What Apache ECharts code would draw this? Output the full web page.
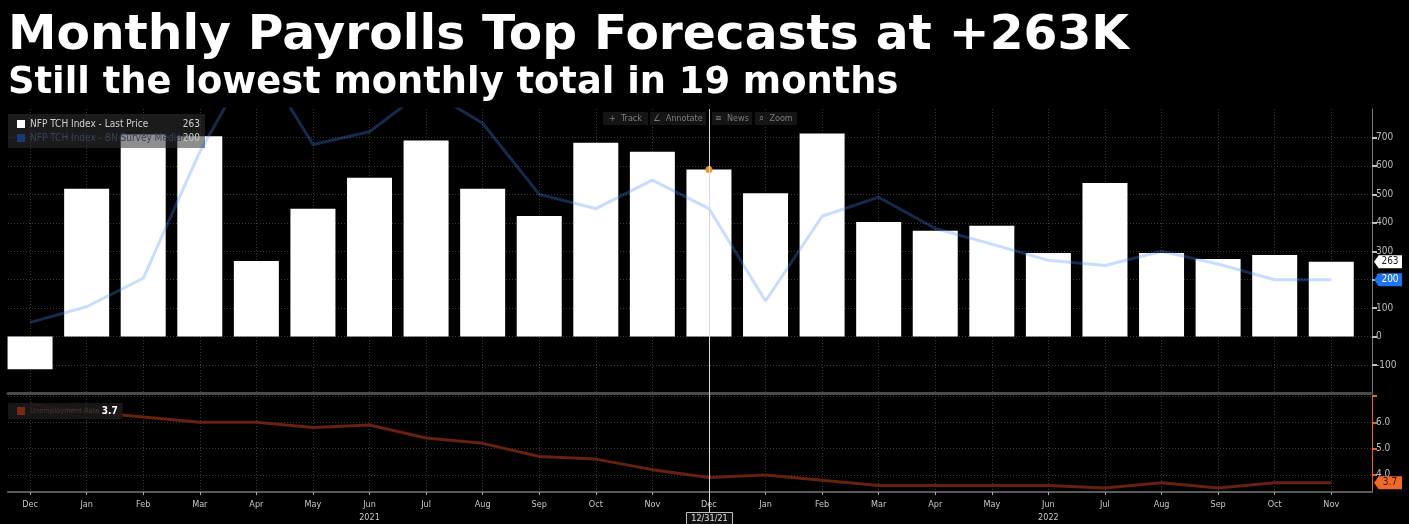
<!DOCTYPE html>
<html>
<head>
<meta charset="utf-8">
<title>Monthly Payrolls</title>
<style>
  html, body { margin: 0; padding: 0; background: #000; }
  #chart { width: 1409px; height: 524px; }
</style>
<script src="https://cdn.jsdelivr.net/npm/echarts@6/dist/echarts.min.js"></script>
</head>
<body>
<div id="chart"></div>
<script>
// Month labels, Dec 2020 .. Nov 2022
const months = ['Dec', 'Jan', 'Feb', 'Mar', 'Apr', 'May', 'Jun', 'Jul', 'Aug', 'Sep', 'Oct', 'Nov',
                'Dec', 'Jan', 'Feb', 'Mar', 'Apr', 'May', 'Jun', 'Jul', 'Aug', 'Sep', 'Oct', 'Nov'];
// Year captions placed under the June ticks
const yearLabels = { 6: '2021', 18: '2022' };

// Nonfarm payrolls change, thousands (last price)
const payrolls = [-115, 520, 710, 704, 266, 449, 558, 689, 520, 424, 681, 650,
                  587, 504, 714, 403, 372, 390, 294, 540, 294, 273, 287, 263];
// BN survey median, thousands
const surveyMedian = [50, 105, 205, 650, 1000, 675, 720, 870, 750, 500, 450, 550,
                      450, 125, 423, 490, 380, 325, 268, 250, 300, 255, 200, 200];
// Unemployment rate, percent
const unemployment = [6.7, 6.4, 6.2, 6.0, 6.0, 5.8, 5.9, 5.4, 5.2, 4.7, 4.6, 4.2,
                      3.9, 4.0, 3.8, 3.6, 3.6, 3.6, 3.6, 3.5, 3.7, 3.5, 3.7, 3.7];

// Axis ticks
const payrollTicks = [-100, 0, 100, 200, 300, 400, 500, 600, 700];
const rateTicks = [4, 5, 6, 7];
const rateLabels = [4, 5, 6];

// Crosshair position
const crosshairIndex = 12;
const crosshairDate = '12/31/21';

const NAME_NFP = 'NFP TCH Index - Last Price';
const NAME_SURVEY = 'NFP TCH Index - BN Survey Median';
const NAME_RATE = 'Unemployment Rate';

const NARROW = "'Liberation Sans Narrow', 'DejaVu Sans Condensed', 'Arial Narrow', sans-serif";
const X_MIN = -0.39, X_MAX = 23.72;
const monthIdx = months.map((m, i) => i);
const last = arr => arr[arr.length - 1];

const gridLine = { show: true, lineStyle: { color: '#383838', width: 1, type: [1, 2] } };

const chart = echarts.init(document.getElementById('chart'), null, { renderer: 'canvas' });

// Value tag pinned to the right-hand axis
const tag = (value, fill, textColor, text) => ({
  coord: [X_MAX, value],
  symbol: 'path://M0,6L5,0L30,0L30,12L5,12Z',
  symbolSize: [28, 13],
  symbolOffset: [16, 0],
  itemStyle: { color: fill },
  label: {
    show: true, position: 'inside', formatter: text, offset: [2, 0],
    color: textColor, fontSize: 10, fontFamily: NARROW
  }
});

const option = {
  backgroundColor: '#000',
  animation: false,
  title: [
    {
      text: 'Monthly Payrolls Top Forecasts at +263K', left: 8, top: 12, padding: 0,
      textStyle: { color: '#fff', fontSize: 48.7, fontWeight: 'bold', fontFamily: 'DejaVu Sans' }
    },
    {
      text: 'Still the lowest monthly total in 19 months', left: 8, top: 65, padding: 0,
      textStyle: { color: '#fff', fontSize: 36.8, fontWeight: 'bold', fontFamily: 'DejaVu Sans' }
    }
  ],
  legend: [
    {
      left: 8, top: 114, orient: 'vertical', icon: 'rect',
      itemWidth: 8, itemHeight: 8, itemGap: 2, selectedMode: false,
      backgroundColor: 'rgba(50,50,50,0.55)', padding: [4, 5, 4, 9],
      data: [
        { name: NAME_NFP, itemStyle: { color: '#ffffff' } },
        { name: NAME_SURVEY, itemStyle: { color: '#1a3b7a' } }
      ],
      formatter: name => name === NAME_NFP
        ? '{a|' + name + '}{b|' + last(payrolls) + '}'
        : '{c|' + name + '}{d|' + last(surveyMedian) + '}',
      textStyle: {
        fontFamily: NARROW, fontSize: 10, lineHeight: 12,
        rich: {
          a: { color: '#d0d0d0', width: 148, fontFamily: NARROW, fontSize: 10 },
          b: { color: '#d0d0d0', width: 22, align: 'right', fontFamily: NARROW, fontSize: 10 },
          c: { color: '#34425a', width: 148, fontFamily: NARROW, fontSize: 10 },
          d: { color: '#c8c8c8', width: 22, align: 'right', fontFamily: NARROW, fontSize: 10 }
        }
      }
    },
    {
      left: 8, top: 403, icon: 'rect', itemWidth: 8, itemHeight: 8, itemGap: 4, selectedMode: false,
      backgroundColor: 'rgba(26,26,26,0.9)', padding: [3, 5, 3, 9],
      data: [{ name: NAME_RATE, itemStyle: { color: '#7a2a14' } }],
      formatter: name => '{e|' + name + '} {f|' + last(unemployment).toFixed(1) + '}',
      textStyle: {
        fontFamily: NARROW, fontSize: 8,
        rich: {
          e: { color: '#4a3630', fontFamily: NARROW, fontSize: 7.5 },
          f: { color: '#ffffff', fontFamily: NARROW, fontSize: 10, fontWeight: 'bold' }
        }
      }
    }
  ],
  grid: [
    { left: 8, right: 37, top: 109, height: 284.5 },
    { left: 8, right: 37, top: 396, height: 99 }
  ],
  xAxis: [
    {
      gridIndex: 0, type: 'value', min: X_MIN, max: X_MAX,
      axisLine: { show: true, onZero: false, lineStyle: { color: '#4a4a4a', width: 3 } },
      axisTick: { show: false, customValues: monthIdx },
      axisLabel: { show: false },
      splitLine: gridLine
    },
    {
      gridIndex: 1, type: 'value', min: X_MIN, max: X_MAX,
      axisLine: { show: true, onZero: false, lineStyle: { color: '#5a5a5a', width: 2 } },
      axisTick: { show: true, customValues: monthIdx, length: 3, lineStyle: { color: '#aaa' } },
      axisLabel: {
        customValues: monthIdx, margin: 6, color: '#c8c8c8', fontSize: 9,
        fontFamily: NARROW, lineHeight: 13,
        formatter: v => months[v] + (yearLabels[v] ? '\n' + yearLabels[v] : '')
      },
      splitLine: gridLine
    }
  ],
  yAxis: [
    {
      gridIndex: 0, type: 'value', position: 'right', min: -200, max: 800,
      axisLine: { show: true, onZero: false, lineStyle: { color: '#7a7a7a', width: 1 } },
      axisTick: { show: true, customValues: payrollTicks, length: 5, lineStyle: { color: '#c0c0c0', width: 2 } },
      axisLabel: { customValues: payrollTicks, margin: 4, color: '#bdbdbd', fontSize: 10, fontFamily: NARROW },
      splitLine: gridLine
    },
    {
      gridIndex: 1, type: 'value', position: 'right', min: 3.35, max: 7,
      axisLine: { show: true, onZero: false, lineStyle: { color: '#e8641e', width: 1 } },
      axisTick: { show: true, customValues: rateTicks, length: 5, lineStyle: { color: '#e8641e', width: 2 } },
      axisLabel: {
        customValues: rateLabels, margin: 4, color: '#bdbdbd', fontSize: 10, fontFamily: NARROW,
        formatter: v => v.toFixed(1)
      },
      splitLine: gridLine
    }
  ],
  series: [
    {
      name: NAME_NFP, type: 'bar', xAxisIndex: 0, yAxisIndex: 0,
      data: payrolls.map((v, i) => [i, v]),
      barWidth: 45, itemStyle: { color: '#ffffff' }, z: 2,
      markPoint: {
        silent: true,
        data: [
          {
            coord: [crosshairIndex, payrolls[crosshairIndex]], symbol: 'circle', symbolSize: 7,
            itemStyle: { color: '#f0902a' }, label: { show: false }
          },
          tag(last(payrolls), '#ffffff', '#222222', String(last(payrolls)))
        ]
      }
    },
    {
      name: NAME_SURVEY, type: 'line', xAxisIndex: 0, yAxisIndex: 0,
      data: surveyMedian.map((v, i) => [i, v]),
      showSymbol: false, z: 3,
      itemStyle: { color: 'rgba(70,140,255,0.3)' },
      lineStyle: { color: 'rgba(70,140,255,0.3)', width: 3 },
      markPoint: {
        silent: true,
        data: [tag(last(surveyMedian), '#1f74ee', '#ffffff', String(last(surveyMedian)))]
      }
    },
    {
      name: NAME_RATE, type: 'line', xAxisIndex: 1, yAxisIndex: 1,
      data: unemployment.map((v, i) => [i, v]),
      showSymbol: false, z: 3,
      itemStyle: { color: '#7a2a14' },
      lineStyle: { color: '#68210e', width: 3 },
      markPoint: {
        silent: true,
        data: [tag(last(unemployment), '#ef6a2a', '#3a1608', last(unemployment).toFixed(1))]
      }
    }
  ]
};

chart.setOption(option);

// Toolbar buttons along the top of the plot
const toolbar = [
  { x: 603, w: 45, text: '+  Track' },
  { x: 650, w: 56, text: '∠  Annotate' },
  { x: 712, w: 40, text: '≡  News' },
  { x: 755, w: 42, text: '⌕  Zoom' }
];
const graphics = toolbar.map(b => ({
  type: 'group', x: b.x, y: 112, z: 20,
  children: [
    { type: 'rect', shape: { x: 0, y: 0, width: b.w, height: 13 }, style: { fill: '#151515' } },
    {
      type: 'text', x: b.w / 2, y: 6.5,
      style: { text: b.text, fill: '#7c7c7c', font: '9px ' + NARROW, align: 'center', verticalAlign: 'middle' }
    }
  ]
}));

// Crosshair through both panels at the selected month
const cx = chart.convertToPixel({ xAxisIndex: 1 }, crosshairIndex);
const cTop = chart.convertToPixel({ yAxisIndex: 0 }, 800);
graphics.push({
  type: 'line', z: 15,
  shape: { x1: Math.round(cx) + 0.5, y1: cTop, x2: Math.round(cx) + 0.5, y2: 512 },
  style: { stroke: '#d8d8d8', lineWidth: 1 }
});
graphics.push({
  type: 'group', x: Math.round(cx) - 23, y: 512, z: 16,
  children: [
    { type: 'rect', shape: { x: 0.5, y: 0.5, width: 46, height: 12 }, style: { fill: '#101010', stroke: '#bdbdbd', lineWidth: 1 } },
    {
      type: 'text', x: 23.5, y: 6.5,
      style: { text: crosshairDate, fill: '#e0e0e0', font: '9px ' + NARROW, align: 'center', verticalAlign: 'middle' }
    }
  ]
});

chart.setOption({ graphic: graphics });
</script>
</body>
</html>
